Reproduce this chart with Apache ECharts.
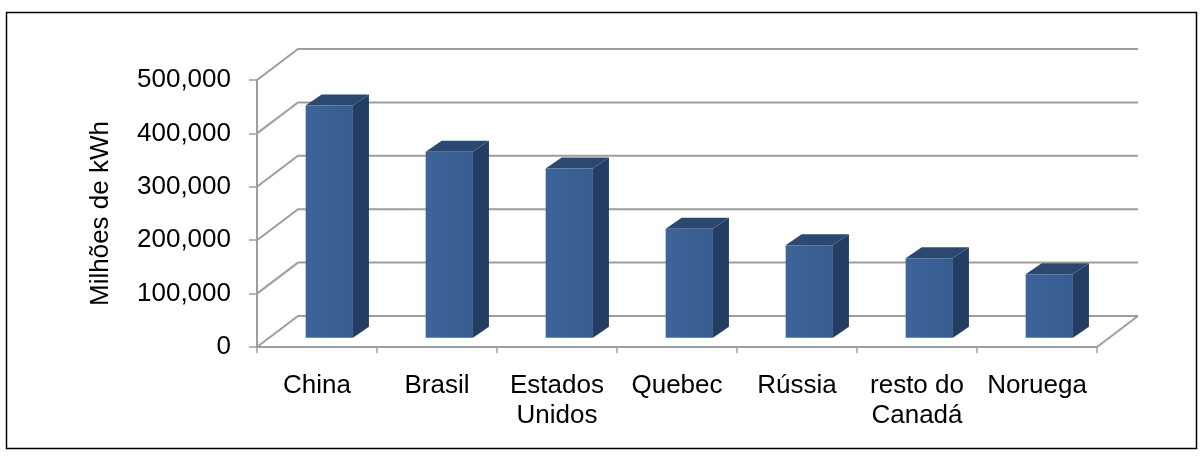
<!DOCTYPE html>
<html>
<head>
<meta charset="utf-8">
<script src="https://cdn.jsdelivr.net/npm/echarts@6/dist/echarts.min.js"></script>
<style>
  html, body { margin: 0; padding: 0; background: #fff; }
  #chart { width: 1203px; height: 460px; }
</style>
</head>
<body>
<div id="chart"></div>
<script>
// Hydroelectric production by country / region (millions of kWh)
const categories = ['China', 'Brasil', 'Estados\nUnidos', 'Quebec', 'Rússia', 'resto do\nCanadá', 'Noruega'];
const production = [435000, 348000, 317000, 204000, 173000, 149000, 119000];
const yTicks = [0, 100000, 200000, 300000, 400000, 500000];

// oblique depth of the back wall and of each column
const WALL_DX = 41, WALL_DY = -31;
const FLOOR_POS = 0.3;          // columns stand at this fraction of the floor depth
const COL_DX = 16, COL_DY = -11;
const GRID_COLOR = '#9e9e9e';

const fmt = v => String(v).replace(/\B(?=(\d{3})+(?!\d))/g, ',');

const chart = echarts.init(document.getElementById('chart'), null, { renderer: 'canvas' });

function renderWall(params, api) {
  const v = api.value(1);
  const band = api.size([1, 0])[0];
  const pL = api.coord([0, v]);
  const pR = api.coord([categories.length - 1, v]);
  const xL = pL[0] - band / 2;
  const xR = pR[0] + band / 2;
  const y = pL[1];
  const style = { stroke: GRID_COLOR, lineWidth: 2, fill: null };
  const children = [{
    type: 'polyline',
    shape: { points: [[xL, y], [xL + WALL_DX, y + WALL_DY], [xR + WALL_DX, y + WALL_DY]] },
    style: style
  }];
  if (v === 0) {
    children.push({
      type: 'line',
      shape: { x1: xR, y1: y, x2: xR + WALL_DX, y2: y + WALL_DY },
      style: style
    });
  }
  return { type: 'group', children: children };
}

function renderColumn(params, api) {
  const i = api.value(0);
  const v = api.value(1);
  const band = api.size([1, 0])[0];
  const top = api.coord([i, v]);
  const base = api.coord([i, 0]);
  const halfW = band * 0.197;
  const cx = top[0] + WALL_DX * FLOOR_POS;
  const x0 = cx - halfW, x1 = cx + halfW;
  const yT = top[1] + WALL_DY * FLOOR_POS;
  const yB = base[1] + WALL_DY * FLOOR_POS;
  return {
    type: 'group',
    children: [
      {
        type: 'polygon',
        shape: { points: [[x1, yT], [x1 + COL_DX, yT + COL_DY], [x1 + COL_DX, yB + COL_DY], [x1, yB]] },
        style: { fill: '#243e63' }
      },
      {
        type: 'polygon',
        shape: { points: [[x0, yT], [x0 + COL_DX, yT + COL_DY], [x1 + COL_DX, yT + COL_DY], [x1, yT]] },
        style: { fill: '#2b4870' }
      },
      {
        type: 'rect',
        shape: { x: x0, y: yT, width: x1 - x0, height: yB - yT },
        style: {
          fill: new echarts.graphic.LinearGradient(0, 0, 1, 0, [
            { offset: 0, color: '#3d6499' },
            { offset: 1, color: '#375c8f' }
          ])
        }
      }
    ]
  };
}

chart.setOption({
  animation: false,
  backgroundColor: '#ffffff',
  textStyle: { fontFamily: 'Liberation Sans, Arial, sans-serif' },
  graphic: [{
    type: 'rect',
    shape: { x: 6.5, y: 12.5, width: 1190, height: 436 },
    style: { fill: null, stroke: '#000', lineWidth: 1.5 },
    silent: true,
    z: 100
  }],
  grid: { left: 257, right: 106, top: 80, bottom: 113, containLabel: false },
  xAxis: {
    type: 'category',
    data: categories,
    axisLine: { show: true, lineStyle: { color: GRID_COLOR, width: 2 } },
    axisTick: { show: true, length: 6, lineStyle: { color: GRID_COLOR, width: 1.5 } },
    axisLabel: {
      interval: 0,
      margin: 24,
      color: '#000',
      fontSize: 26,
      lineHeight: 30,
      fontFamily: 'Liberation Sans, Arial, sans-serif'
    },
    splitLine: { show: false }
  },
  yAxis: {
    type: 'value',
    min: 0,
    max: 500000,
    interval: 100000,
    name: 'Milhões de kWh',
    nameLocation: 'middle',
    nameRotate: 90,
    nameGap: 143,
    nameTextStyle: { color: '#000', fontSize: 26, fontFamily: 'Liberation Sans, Arial, sans-serif' },
    axisLine: { show: true, lineStyle: { color: GRID_COLOR, width: 2 } },
    axisTick: { show: true, length: 8, lineStyle: { color: GRID_COLOR, width: 1.5 } },
    axisLabel: {
      margin: 26,
      color: '#000',
      fontSize: 26,
      fontFamily: 'Liberation Sans, Arial, sans-serif',
      formatter: fmt
    },
    splitLine: { show: false }
  },
  series: [
    {
      type: 'custom',
      name: 'wall',
      silent: true,
      z: 1,
      renderItem: renderWall,
      encode: { x: 0, y: 1 },
      data: yTicks.map(v => [0, v])
    },
    {
      type: 'custom',
      name: 'Milhões de kWh',
      z: 3,
      renderItem: renderColumn,
      encode: { x: 0, y: 1 },
      data: production.map((v, i) => [i, v])
    }
  ]
});
</script>
</body>
</html>
